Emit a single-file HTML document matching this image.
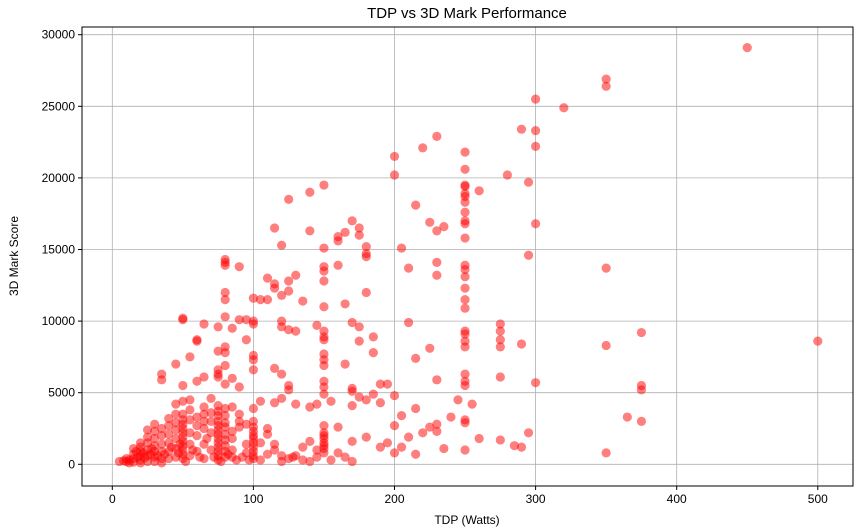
<!DOCTYPE html>
<html><head><meta charset="utf-8"><style>
body{margin:0;background:#fff;font-family:"Liberation Sans","DejaVu Sans",sans-serif}
svg{display:block}
</style></head><body>
<svg id="chart" width="859" height="531" xmlns="http://www.w3.org/2000/svg">
<text x="467" y="18" text-anchor="middle" font-size="15" fill="#000">TDP vs 3D Mark Performance</text>
<g id="grid"></g><g id="pts"></g>
<rect x="82" y="27" width="771" height="459" fill="none" stroke="#000" stroke-width="1"/>
<g id="ticks"></g>
<text x="467" y="524" text-anchor="middle" font-size="12">TDP (Watts)</text>
<text transform="translate(18,256) rotate(-90)" text-anchor="middle" font-size="12">3D Mark Score</text>
</svg>
<script>
const xTicks=[0,100,200,300,400,500];
const yTicks=[0,5000,10000,15000,20000,25000,30000];
const tdp=[450,350,350,300,320,290,300,230,220,300,250,200,250,200,280,295,260,250,250,150,140,250,250,250,215,125,250,170,225,250,250,300,115,175,165,235,230,175,140,160,160,250,205,180,150,120,180,180,295,230,80,80,80,90,150,150,160,125,130,110,210,230,250,250,250,350,115,115,125,150,80,80,180,250,250,105,100,135,165,150,120,110,250,80,50,50,90,95,100,100,85,75,65,120,120,125,130,145,150,150,150,170,175,185,175,210,225,250,250,250,250,275,275,275,275,290,350,375,500,60,60,95,80,80,75,55,45,100,100,100,115,120,150,150,185,215,165,150,80,75,75,75,65,35,35,85,90,80,50,125,125,150,150,150,170,170,175,185,190,200,195,190,230,250,250,250,275,300,375,375,245,255,120,115,105,100,130,140,145,155,170,180,215,230,225,205,200,195,190,210,220,230,240,250,250,250,260,275,285,290,295,350,365,375,200,205,215,235,180,170,160,150,150,150,150,150,150,150,150,140,135,145,130,125,120,115,115,110,110,105,100,100,100,100,100,100,100,100,100,100,95,95,90,90,85,85,85,85,80,80,80,80,80,80,80,80,80,75,75,75,75,75,75,75,75,75,75,75,75,75,70,70,70,65,65,65,65,60,60,60,55,55,55,55,55,50,50,50,50,50,50,50,50,50,50,50,48,45,45,45,45,45,45,45,40,40,40,40,40,40,35,35,35,35,35,35,30,30,30,30,30,30,30,28,25,25,25,25,25,25,22,20,20,20,20,20,20,18,15,15,15,15,12,12,10,10,8,5,17,23,27,32,37,42,47,52,57,62,67,72,77,82,88,92,97,105,110,120,128,135,140,145,155,160,165,170,60,65,70,85,90,95,55,60,70,65,50];
const score=[29100,26900,26400,25500,24900,23400,23300,22900,22100,22200,21800,21500,20600,20200,20200,19700,19100,19500,19400,19500,19000,18900,18700,18300,18100,18500,17600,17000,16900,17000,16800,16800,16500,16500,16200,16600,16300,16000,16300,15900,15600,15800,15100,15200,15100,15300,14700,14500,14600,14100,14300,14100,13900,13800,13800,13500,13900,12800,13200,13000,13700,13200,13900,13600,13100,13700,12600,12300,12100,12800,12000,11500,12000,12300,11500,11500,11600,11400,11200,11000,11800,11500,10900,10300,10200,10100,10100,10100,10000,9800,9500,9600,9800,10000,9600,9400,9300,9700,9300,8900,8700,9900,9600,8900,8600,9900,8100,9300,9100,8600,8200,9800,9300,8700,8200,8400,8300,9200,8600,8700,8600,8700,8200,7800,7900,7500,7000,7600,7300,6600,6700,6300,7700,7300,7800,7400,7000,6900,6900,6600,6300,6100,6100,6300,5900,6000,5400,5600,5500,5500,5200,5800,5400,4900,5300,5100,4700,4900,4300,4800,5600,5600,5900,6300,5800,5500,6100,5700,5500,5200,4500,4200,4600,4300,4400,3900,4200,4000,4200,4400,4100,4500,3900,2800,2600,3400,2700,1500,1200,1900,2200,2300,3300,3100,2900,1000,1800,1700,1300,1200,2200,800,3300,3000,800,1200,700,1100,1900,1600,2600,2700,2200,2000,1800,1500,1300,1100,800,1600,1200,1000,600,400,600,1000,1400,2100,2500,1500,3000,2600,2300,2000,1800,1500,1200,900,600,400,1400,800,3000,2600,2300,1800,1000,500,3900,3400,2900,2600,2100,1700,1300,900,500,4100,3700,3400,3000,2700,2400,2100,1800,1500,1200,900,600,300,3600,2200,1000,3500,2500,1400,400,3300,2000,900,4500,3100,2200,1400,600,3500,3100,2800,2500,2200,1900,1600,1300,1000,700,400,1400,4200,3500,2900,2400,1800,1100,500,3200,2700,2100,1500,900,400,2500,2000,1400,900,400,100,2800,2300,1800,1300,900,500,200,1100,2400,1900,1500,1000,600,200,800,1500,1200,900,600,300,100,500,1100,700,400,150,300,100,400,200,250,200,900,450,700,600,700,1200,800,200,1000,500,1800,500,200,700,300,500,300,300,700,200,500,300,200,500,300,800,500,200,5800,4000,4600,4000,3500,2800,3800,2700,3000,3000,4400];
const NS="http://www.w3.org/2000/svg";
const X=v=>112.3+v*1.411;
const Y=v=>464.3-v*0.01432;
const grid=document.getElementById('grid'),ticks=document.getElementById('ticks'),pts=document.getElementById('pts');
function mk(tag,attrs,parent){const e=document.createElementNS(NS,tag);for(const k in attrs)e.setAttribute(k,attrs[k]);parent.appendChild(e);return e;}
xTicks.forEach(t=>{
 const g=mk('line',{x1:X(t),x2:X(t),y1:27,y2:486,stroke:'#b0b0b0','stroke-width':0.8},grid);
 
 
 mk('line',{x1:X(t),x2:X(t),y1:486,y2:490,stroke:'#000'},ticks);
 const tx=mk('text',{x:X(t),y:503,'text-anchor':'middle','font-size':12},ticks);
 tx.textContent=t;
 
 
});
yTicks.forEach(t=>{
 const g=mk('line',{x1:82,x2:853,y1:Y(t),y2:Y(t),stroke:'#b0b0b0','stroke-width':0.8},grid);
 
 
 mk('line',{x1:78,x2:82,y1:Y(t),y2:Y(t),stroke:'#000'},ticks);
 const tx=mk('text',{x:75,y:Y(t)+4,'text-anchor':'end','font-size':12},ticks);
 tx.textContent=t;
 
 
});
tdp.forEach((t,i)=>{
 const c=mk('circle',{cx:X(t),cy:Y(score[i]),r:4.6,fill:'rgba(255,0,0,0.5)'},pts);
 
 
});
</script>
</body></html>
